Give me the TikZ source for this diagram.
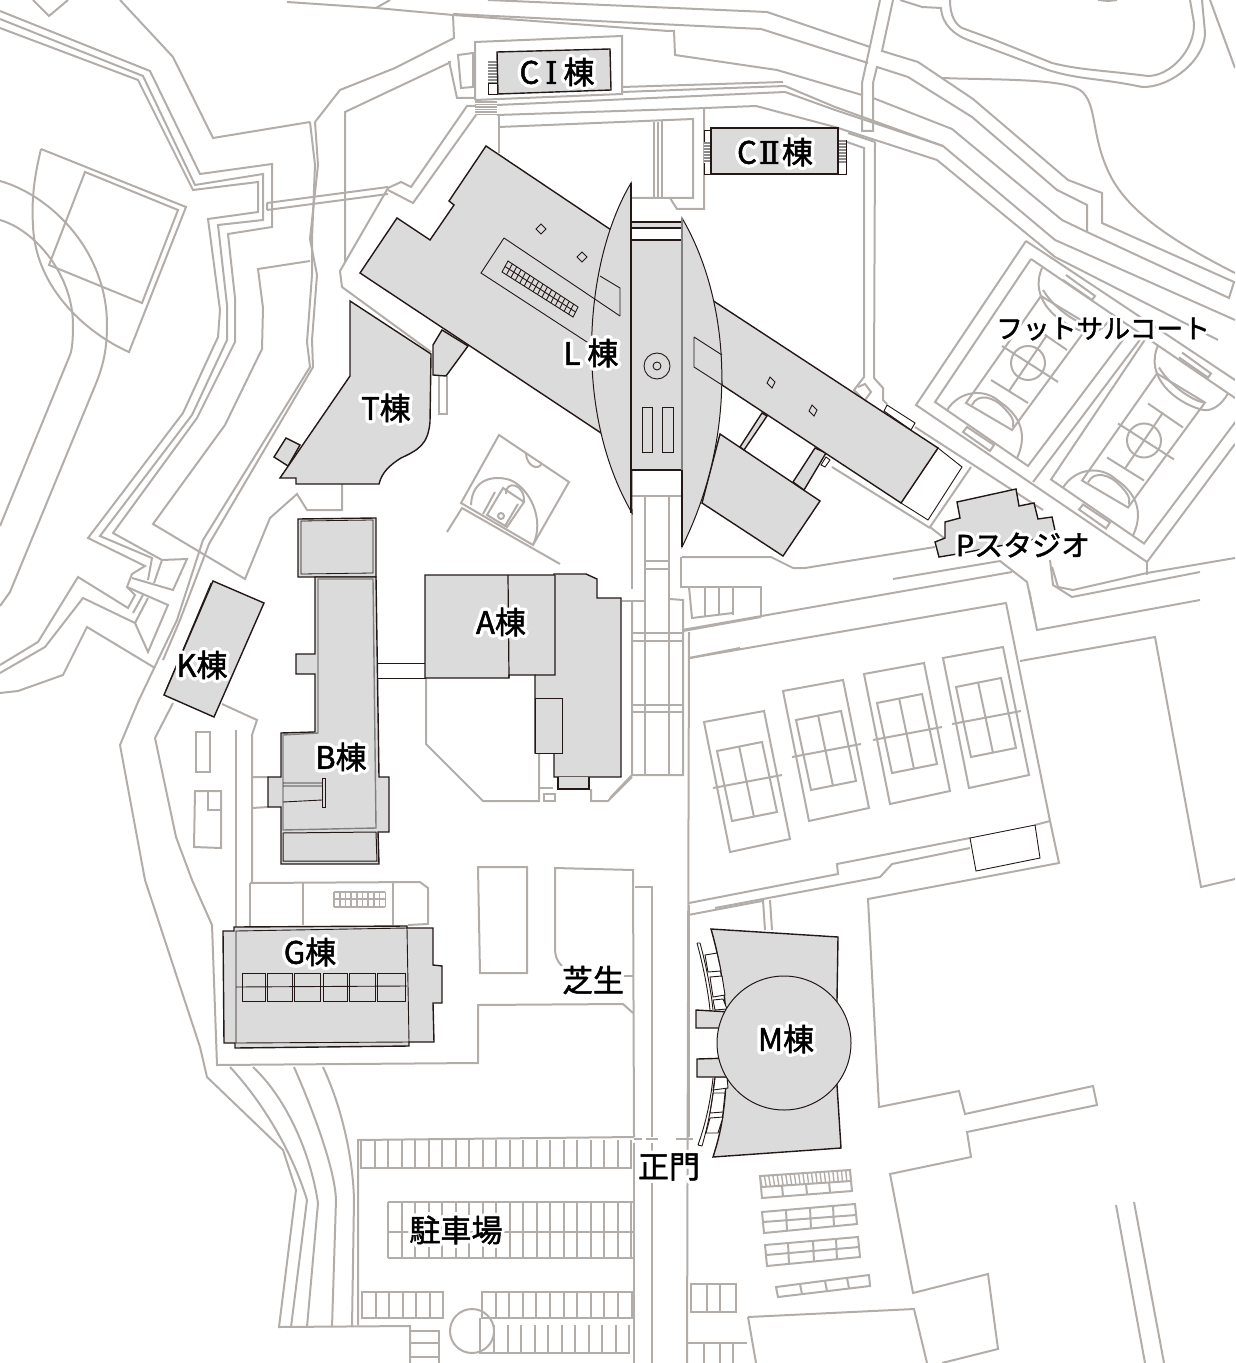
\documentclass[tikz,border=0pt]{standalone}
\usepackage{fontspec}
\setmainfont[RawFeature={embolden=1.6}]{Noto Sans CJK JP}
\newfontfamily\halofont[RawFeature={embolden=24}]{Noto Sans CJK JP}
\newfontfamily\numfont[RawFeature={embolden=1.6}]{DejaVu Serif}
\usetikzlibrary{calc}
\definecolor{roadgray}{HTML}{B3ADAA}
\definecolor{bldggray}{HTML}{DCDBDB}
\definecolor{bldgline}{HTML}{231815}
\definecolor{stairgray}{HTML}{8C8C8C}
\tikzset{
  road/.style={draw=roadgray,line width=1pt,line join=miter},
  bldg/.style={fill=bldggray,draw=bldgline,line width=.7pt,line join=miter},
  thinline/.style={draw=bldgline,line width=.45pt},
  halotext/.style={text=white,inner sep=0pt},
  maptext/.style={text=black,inner sep=0pt},
}
\newcommand{\maplabel}[4][15.5]{%
  \node[halotext] at (#3) {\special{pdf:code 1 j}\fontsize{#1}{#1}\halofont #4};
  \node[maptext] (#2) at (#3) {\special{pdf:code 1 j}\fontsize{#1}{#1}\selectfont #4};}
\begin{document}
\begin{tikzpicture}[x=0.5pt,y=-0.5pt]
\useasboundingbox (0,0) rectangle (1235,1363);
\clip (0,0) rectangle (1235,1363);
\begin{scope}[road]
\draw (0,11)--(150,71)--(200,174)--(272,164)--(272,227)--(228,234)--(235,298)--(235,342)--(197,418)--(113,533)--(162,560)--(154,583);
\draw (148,598)--(135,623)--(83,598)--(45,647)--(0,673);
\draw (0,19)--(143,76)--(195,185)--(263,174)--(263,220)--(218,225)--(227,305)--(227,340)--(192,415)--(100,536)--(152,558)--(148,580);
\draw (143,595)--(133,613);
\draw (0,28)--(138,80)--(193,190)--(258,182)--(258,212)--(208,219)--(220,310)--(218,337)--(183,413)--(88,538)--(145,566)--(132,574)--(127,587)--(135,595)--(128,608)--(78,577)--(38,642)--(0,665);
\draw (267,203)--(388,187) (267,210)--(388,194) (267,203)--(267,210);
\draw (0,693)--(18,691)--(63,675)--(87,627)--(155,668);
\draw (132,578)--(173,590)--(187,559)--(162,560);
\draw (127,587)--(168,605)--(148,652)--(135,623);
\draw (315,122)--(318,165)--(310,239)--(317,275)--(312,340)--(313,367)--(209,544)--(180,620)--(163,660);
\draw (310,122)--(315,165)--(312,239)--(312,275)--(307,342)--(310,367)--(203,540)--(177,620)--(138,702)--(120,745)--(145,880)--(200,1047)--(207,1077)--(283,1150)--(296,1190)--(279,1327)--(410,1326)--(410,1363);
\draw (310,261)--(258,269)--(263,308)--(262,349)--(225,425)--(153,524)--(245,579)--(270,518)--(297,494)--(307,510)--(342,510)--(342,484);
\draw (33,0)--(49,16)--(68,0);
\draw (120,0)--(173,57)--(213,138)--(310,122);
\draw (315,122)--(340,90)--(395,68)--(454,38)--(453,15)--(376,8)--(287,2);
\draw (376,8)--(390,0);
\draw (345,262)--(345,112)--(451,62);
\draw (388,188)--(340,271)--(342,287)--(431,352);
\draw (388,188)--(401,182)--(411,187)--(467,106)--(476,106);
\draw (388,190)--(413,203)--(476,115);
\draw (453,15)--(668,31)--(674,31)--(675,55)--(777,70)--(862,95);
\draw (453,14)--(761,29)--(868,63);
\draw (488,0)--(767,12)--(870,47);
\draw (873,98)--(952,129)--(1062,220)--(1087,232);
\draw (475,100)--(475,42)--(622,36)--(622,94)--(475,100);
\draw (458,55)--(473,53)--(473,87)--(461,88)--cycle;
\draw (449,61)--(457,98)--(475,98);
\draw (622,87)--(783,82);
\draw (622,92)--(785,86)--(835,107)--(943,146)--(1055,240)--(1235,320);
\draw (497,105)--(785,92)--(835,110)--(943,146);
\draw (497,115)--(680,109)--(756,106)--(835,127)--(937,160)--(1055,257)--(1218,340);
\draw (704,108)--(704,209)--(677,209)--(670,198);
\draw (499,115)--(499,153);
\draw (499,127)--(693,119)--(693,198)--(631,198);
\draw (654,122)--(654,197) (658,122)--(658,197) (662,121)--(662,197);
\draw (880,0)--(862,83)--(862,131)--(873,131)--(873,83)--(877,67)--(908,77)--(972,117)--(1057,190)--(1087,205)--(1087,232);
\draw (893,0)--(882,51)--(918,62)--(973,99)--(1068,180)--(1102,193)--(1102,223)--(1234,282)--(1229,298)--(1087,232);
\draw (942,78) .. controls (990,80) and (1060,78) .. (1080,90) .. controls (1098,103) and (1090,135) .. (1110,175) .. controls (1130,215) and (1180,245) .. (1235,273);
\draw (900,0)--(922,7)--(941,8) .. controls (942,25) and (955,35) .. (968,40)--(1048,70) .. controls (1080,80) and (1100,78) .. (1142,87) .. controls (1170,88) and (1205,60) .. (1205,33)--(1202,0);
\draw (950,0) .. controls (950,15) and (955,24) .. (962,28)--(995,40)--(1052,63) .. controls (1080,70) and (1100,70) .. (1148,76) .. controls (1170,76) and (1195,50) .. (1194,23)--(1190,0);
\draw (1210,0)--(1235,68);
\draw (1098,0)--(1108,1)--(1117,0);
\draw (875,142)--(874,378)--(883,388)--(883,400)--(887,404);
\draw (847,142)--(864,148)--(864,377)--(854,390)--(864,400);
\draw (858,387)--(865,384)--(871,392)--(865,400);
\draw (875,142)--(848,133);
\draw (439,376)--(439,414)--(447,414)--(447,376);
\draw (499,435)--(569,482)--(533,545)--(461,503)--cycle;
\draw (447,532)--(462,508)--(560,564);
\draw (526,453) .. controls (526,465) and (538,472) .. (542,463);
\draw (503,488)--(524,502)--(507,527)--(487,515)--cycle;
\draw (495,492)--(483,514) (518,504)--(505,526);
\draw (501,516) circle (3);
\draw (506,494) .. controls (505,480) and (525,483) .. (524,502);
\draw (471,505) .. controls (472,478) and (495,475) .. (510,480) .. controls (530,488) and (545,520) .. (533,545);
\draw (682,557)--(771,557)--(793,568)--(805,568)--(935,547);
\draw (682,630)--(1012,572);
\draw (690,658)--(1006,603)--(1050,821)--(1059,863)--(868,899)--(879,1107)--(959,1091)--(965,1114)--(1093,1086)--(1097,1105)--(967,1132)--(971,1157)--(890,1174)--(913,1293)--(988,1274)--(998,1349)--(942,1363);
\draw (893,579)--(1000,561)--(1027,582)--(1035,620);
\draw (1029,590)--(1037,630)--(1200,600);
\draw (1020,661)--(1155,637)--(1201,887)--(1235,879);
\draw (689,903)--(838,874)--(837,864)--(970,838);
\draw (1035,825)--(1050,821);
\draw (715,908)--(880,877)--(892,864)--(970,848);
\foreach \dx/\dy in {0/0,79/-31,160/-48,239/-64}{
  \begin{scope}[shift={(\dx,\dy)}]
  \draw (704,722)--(764,711)--(790,839)--(730,852)--cycle;
  \draw (717,751)--(762,742)--(777,812)--(732,821)--cycle;
  \draw (739,746)--(754,817) (713,788)--(782,775);
  \end{scope}
}
\draw (622,601)--(645,601);
\draw (632,513)--(632,589);
\draw (632,602)--(632,775)--(683,775)--(683,600)--(670,599);
\draw (632,496)--(682,496);
\draw (645,496)--(645,775) (669,496)--(669,775);
\draw (645,561)--(669,561) (645,569)--(669,569);
\foreach \y in {633,641,705,712}{\draw (632,\y)--(683,\y);}
\draw (610,798)--(632,775);
\draw (681,557)--(681,587)--(733,587)--(733,615);
\draw (689,587)--(692,618)--(733,613);
\draw (705,587)--(705,616) (719,587)--(719,614);
\draw (733,587)--(761,587)--(761,617);
\draw (683,631)--(761,617);
\draw (689,632)--(687,1363);
\draw (689,658)--(740,648);
\draw (426,678)--(426,744)--(483,801)--(539,801)--(539,753);
\draw (544,794) rectangle (555,801);
\draw (540,788)--(553,788);
\draw (591,789)--(591,801)--(608,801)--(632,777);
\draw (173,703)--(155,738)--(176,837)--(192,880)--(212,925)--(217,1065)--(478,1063)--(478,1005)--(623,1004)--(633,1013);
\draw (222,704)--(257,720)--(252,735)--(252,883);
\draw (236,730)--(236,927);
\draw (252,777)--(268,777) (252,808)--(268,807);
\draw (196,732) rectangle (210,772);
\draw (195,791)--(221,791)--(221,848)--(194,847)--cycle;
\draw (208,791)--(208,810)--(221,810);
\draw (250,883)--(420,882)--(428,888)--(428,924)--(408,925);
\draw (250,883)--(250,927) (303,883)--(303,925) (393,883)--(393,925);
\foreach \y in {892,899,907}{\draw[line width=.8pt] (334,\y)--(385,\y);}
\foreach \x in {334,339.7,...,386}{\draw[line width=.8pt] (\x,892)--(\x,907);}
\draw (478,867)--(527,867)--(527,973)--(480,973)--cycle;
\draw (562,966) .. controls (556,960) and (555,955) .. (555,947)--(555,868)--(633,870)--(634,1137);
\draw (623,976)--(633,976);
\draw (635,887)--(652,887)--(652,1137);
\draw (634,1143)--(634,1363) (652,1143)--(652,1363);
\draw (689,905)--(689,1137);
\draw (634,1139)--(642,1139) (646,1139)--(658,1139) (676,1139)--(693,1139);
\draw (230,1067) .. controls (258,1097) and (290,1145) .. (307,1200)--(291,1327);
\draw (253,1067) .. controls (285,1097) and (310,1150) .. (318,1203)--(307,1327);
\draw (294,1067) .. controls (315,1115) and (335,1170) .. (336,1200)--(332,1327);
\draw (323,1067) .. controls (343,1110) and (353,1160) .. (354,1200)--(352,1327);
\draw (358,1325)--(358,1140)--(634,1137);
\draw (361,1140)--(361,1168)--(631,1168)--(631,1140);
\foreach \x in {374.5,388,...,631}{\draw (\x,1140)--(\x,1168);}
\draw (388,1202)--(633,1202) (388,1232)--(633,1232) (388,1258)--(633,1258) (388,1202)--(388,1258);
\foreach \x in {401.5,415,...,633}{\draw (\x,1202)--(\x,1258);}
\draw (362,1292) rectangle (443,1318);
\foreach \x in {375.5,389,...,440}{\draw (\x,1292)--(\x,1318);}
\draw (482,1292)--(632,1292)--(632,1318)--(482,1318)--cycle;
\foreach \x in {495.6,509.2,...,630}{\draw (\x,1292)--(\x,1318);}
\draw (480,1318)--(480,1353)--(629,1353)--(629,1325);
\foreach \x in {494,507.5,...,629}{\draw (\x,1325)--(\x,1353);}
\draw (472,1331) circle (22);
\draw (410,1331)--(439,1331)--(439,1363) (410,1343)--(439,1343) (410,1357)--(439,1357);
\draw (691,1284) rectangle (736,1312);
\draw (707,1284)--(707,1312) (720,1284)--(720,1312);
\draw (687,1343)--(747,1343);
\draw (704,1343)--(704,1363) (720,1343)--(720,1363) (733,1343)--(733,1363);
\draw (748,1317)--(914,1309)--(927,1363);
\draw (748,1317)--(756,1363);
\draw (1116,1205)--(1145,1363) (1134,1202)--(1164,1363);
\draw (688,915)--(762,901) (763,900)--(765,930) (770,900)--(772,930);
\draw (760,1176)--(850,1170)--(852,1191)--(762,1198)--cycle;
\draw (762,1187)--(851,1181);
\foreach \i in {0,...,21}{\draw[line width=.7pt] ($(760,1176)!\i/21!(850,1170)$)--($(762,1187)!\i/21!(851,1181)$);}
\draw (783,1196)--(782,1186) (807,1194)--(806,1184) (830,1192)--(829,1182);
\draw (762,1212)--(855,1204)--(857,1224)--(764,1233)--cycle;
\draw (763,1222)--(856,1215) (786,1210)--(787,1231) (810,1208)--(811,1229) (833,1206)--(834,1227);
\draw (765,1245)--(858,1237)--(860,1257)--(767,1266)--cycle;
\draw (766,1255)--(859,1247) (788,1243)--(789,1264) (813,1241)--(814,1262) (836,1239)--(837,1260);
\draw (776,1287)--(869,1275)--(870,1286)--(778,1297)--cycle;
\draw (800,1284)--(802,1294) (825,1281)--(827,1291) (847,1278)--(849,1288);
\draw (1026,241)--(916,405)--(1147,562)--(1235,444);
\draw (1026,241)--(1235,380);
\draw (1031,259)--(1235,398);
\draw (1033,482)--(1142,337);
\draw (915,427)--(1043,510);
\draw (971,467)--(930,527)--(944,538);
\draw (832,467)--(930,528);
\draw (1052,567)--(1058,587)--(1073,590)--(1147,573)--(1235,558);
\draw (1050,560)--(1053,585)--(1072,597)--(1200,572);
\draw (1147,562)--(1147,575);
\foreach \dx/\dy in {0/0,116/77.5}{
  \begin{scope}[shift={(\dx,\dy)}]
  \draw (1031,259)--(935,402)--(1028,466)--(1125,337);
  \draw (1041,296)--(966,403)--(1012,430)--(1089,325)--cycle;
  \draw (1028,363) circle (17);
  \draw (1002,346)--(1058,382) (1009,391)--(1047,335);
  \draw (991,380)--(1028,403) (1032,326)--(1067,350);
  \draw (947,410) .. controls (960,390) and (985,388) .. (1000,402) .. controls (1015,412) and (1030,430) .. (1017,458);
  \draw (972,405) .. controls (978,392) and (995,398) .. (1003,407) .. controls (1010,414) and (1015,420) .. (1013,427);
  \draw (1042,268) .. controls (1028,300) and (1060,325) .. (1085,332) .. controls (1095,335) and (1105,328) .. (1112,316);
  \draw (1043,290) .. controls (1055,310) and (1080,325) .. (1089,325);
  \draw (1066,275)--(1095,296)--(1092,300)--(1063,280);
  \draw (967,427)--(994,445)--(990,451)--(963,432)--cycle;
  \end{scope}
}
\draw (41,149)--(186,207)--(129,352) .. controls (90,335) and (35,290) .. (33,225) .. controls (31,195) and (36,170) .. (41,149);
\draw (85,172)--(178,210)--(142,303)--(49,265)--cycle;
\draw (0,181) .. controls (50,195) and (107,250) .. (107,325) .. controls (107,350) and (103,365) .. (97,381)--(10,592)--(0,606);
\draw (0,220) .. controls (35,230) and (73,275) .. (73,325) .. controls (73,340) and (72,350) .. (70,355)--(0,526);
\foreach \y in {102,104.5,...,115}{\draw[line width=.6pt] (475,\y)--(497,\y);}
\end{scope}
\draw[thinline] (970,838)--(1035,825)--(1040,858)--(976,871)--cycle;
\draw[thinline,fill=white] (488,83) rectangle (497,94);
\fill[stairgray] (488,61) rectangle (497,83);
\foreach \y in {63,66,...,81}{\draw[white,line width=.4pt] (488,\y)--(497,\y);}
\draw[bldg] (497,52)--(610,49)--(611,90)--(498,94)--cycle;
\draw[thinline] (704,130) rectangle (711,174);
\fill[stairgray] (704,142) rectangle (711,163);
\foreach \y in {144,147,...,162}{\draw[white,line width=.4pt] (704,\y)--(711,\y);}
\draw[thinline] (838,140) rectangle (846,174);
\fill[stairgray] (838,140) rectangle (846,163);
\foreach \y in {142,145,...,162}{\draw[white,line width=.4pt] (838,\y)--(846,\y);}
\draw[bldg] (711,128) rectangle (838,174);
\draw[bldg] (442,330)--(468,346)--(446,376)--(433,375)--(433,345)--cycle;
\draw[bldg] (486,146)--(632,244)--(632,448)--(601,433)--(360,273)--(397,218)--(430,240)--(454,205)--(449,201)--cycle;
\draw[thinline] (541,224)--(546,229)--(541,234)--(536,229)--cycle;
\draw[thinline] (582,252)--(587,257)--(582,262)--(577,257)--cycle;
\coordinate (gridA) at (508,261);
\coordinate (gridB) at (578,307);
\coordinate (gridC) at (502,272);
\coordinate (gridD) at (573,317);
\draw[thinline] (gridA)--(gridB)--(gridD)--(gridC)--cycle;
\draw[thinline] ($(gridA)!.5!(gridC)$)--($(gridB)!.5!(gridD)$);
\foreach \i in {1,...,15}{\draw[thinline] ($(gridA)!\i/16!(gridB)$)--($(gridC)!\i/16!(gridD)$);}
\draw[bldg] (286,438)--(300,445)--(288,466)--(274,457)--cycle;
\draw[bldg] (350,301)--(431,354)--(430,422) .. controls (428,445) and (418,450) .. (401,458) .. controls (390,465) and (382,472) .. (379,484)--(296,484)--(296,478)--(280,478)--(350,376)--cycle;
\draw[bldg] (720,434)--(820,501)--(783,556)--(702,503)--cycle;
\draw[bldg] (762,413)--(767,416)--(744,450)--(740,447)--cycle;
\draw[bldg] (815,448)--(826,453)--(804,490)--(793,482)--cycle;
\draw[thinline,fill=white] (821,465)--(826,457)--(830,460)--(825,467)--cycle;
\draw[thinline,fill=white] (887,405)--(915,423)--(911,430)--(884,411)--cycle;
\draw[thinline,fill=white] (938,448)--(962,467)--(928,520)--(901,503)--cycle;
\draw[bldg] (712,300)--(938,448)--(901,503)--(722,385)--cycle;
\draw[thinline] (770,377)--(775,382)--(772,388)--(767,383)--cycle;
\draw[thinline] (812,405)--(817,410)--(814,416)--(809,411)--cycle;
\draw[bldg,line width=.5pt] (631,183) .. controls (585,260) and (572,410) .. (632,513)--cycle;
\draw[bldg,line width=.5pt] (682,218) .. controls (730,300) and (740,430) .. (682,547)--cycle;
\draw[thinline] (504,238)--(620,316);
\draw[thinline] (504,238)--(481,273)--(590,344);
\draw[thinline] (600,276)--(620,288)--(620,316);
\draw[thinline] (694,337)--(722,355) (694,337)--(694,367)--(722,385);
\fill[bldggray] (631,240) rectangle (682,470);
\fill[bldggray] (631,222) rectangle (682,228);
\draw[bldgline,line width=.7pt] (631,222)--(682,222) (631,228)--(682,228);
\draw[bldgline,line width=.9pt] (631,240)--(682,240) (631,470)--(682,470);
\draw[bldgline,line width=.7pt] (631,183)--(631,513);
\draw[draw=gray,line width=.6pt] (682,218)--(682,470);
\draw[bldgline,line width=.7pt] (682,470)--(682,547);
\draw[thinline] (657,366) circle (13);
\draw[thinline] (657,366) circle (4);
\draw[thinline] (642,407) rectangle (652,452);
\draw[thinline] (662,407) rectangle (673,452);
\draw[bldg] (957,502)--(1016,489)--(1019,506)--(1034,503)--(1038,519)--(1052,517)--(1056,535)--(963,553)--(939,557)--(935,542)--(945,538)--(945,522)--(960,518)--cycle;
\draw[bldg] (213,581)--(264,603)--(214,717)--(164,695)--cycle;
\draw[thinline] (211,583)--(166,690);
\draw[thinline] (378,663)--(426,663) (378,678)--(426,678);
\draw[bldg] (298,519)--(376,518)--(376,577)--(298,577)--cycle;
\draw[draw=bldgline,line width=.4pt] (301,521)--(373,520)--(373,573)--(301,574)--cycle;
\draw[bldg] (315,577)--(315,654)--(296,654)--(296,674)--(315,674)--(315,732)--(281,733)--(281,777)--(268,777)--(268,807)--(281,807)--(281,864)--(379,864)--(378,832)--(389,832)--(389,777)--(379,777)--(376,577)--cycle;
\draw[draw=gray,line width=.7pt] (318,579)--(373,579)--(376,828)--(283,830)--(283,735)--(318,733)--cycle;
\draw[draw=bldgline,line width=.5pt] (283,833)--(376,832)--(377,861)--(283,861)--cycle;
\draw[draw=bldgline,line width=.45pt] (322,783)--(283,783) (322,786)--(283,786) (322,800)--(283,802);
\draw[draw=bldgline,line width=.5pt] (322,778)--(325,778)--(325,807)--(322,807)--cycle;
\draw[bldg] (425,575)--(554,575)--(554,574)--(586,574)--(597,579)--(597,598)--(621,598)--(621,777)--(554,777)--(554,753)--(535,753)--(535,675)--(509,675)--(509,678)--(425,678)--cycle;
\draw[bldgline,line width=.6pt] (508,575)--(509,678) (555,575)--(555,675)--(535,675);
\draw[bldg,line width=.5pt] (535,698) rectangle (562,753);
\draw[bldg] (558,777)--(558,789)--(589,789)--(589,777);
\draw[bldg] (223,931)--(234,931)--(234,927)--(407,926)--(407,928)--(433,928)--(433,965)--(442,966)--(442,1003)--(433,1003)--(434,1042)--(409,1042)--(409,1046)--(235,1048)--(235,1043)--(224,1043)--cycle;
\draw[thinline] (236,931)--(407,928)--(409,1042)--(236,1043)--cycle;
\foreach \a/\b in {242/265,267/292,294/320,323/347,349/375,377/405}{\draw[thinline] (\a,973) rectangle (\b,1001);}
\draw[thinline] (236,987)--(407,986);
\draw[bldg] (711,929)--(838,937)--(837,1000)--(837,1085)--(841,1148)--(713,1157) .. controls (720,1135) and (727,1110) .. (727,1043) .. controls (727,1000) and (720,960) .. (711,929)--cycle;
\draw[thinline,fill=white] (705,955)--(717,953)--(721,971)--(708,972)--cycle;
\draw[thinline,fill=white] (710,977)--(722,976)--(725,995)--(713,997)--cycle;
\draw[thinline,fill=white] (713,1000)--(723,999)--(727,1009)--(715,1010)--cycle;
\draw[thinline,fill=white] (715,1077)--(727,1077)--(728,1088)--(713,1090)--cycle;
\draw[thinline,fill=white] (713,1093)--(725,1093)--(723,1112)--(710,1113)--cycle;
\draw[thinline,fill=white] (710,1118)--(723,1117)--(718,1133)--(706,1133)--cycle;
\draw[thinline] (697,943) .. controls (703,965) and (708,990) .. (710,1010) (700,943) .. controls (706,965) and (711,990) .. (713,1010) (697,943)--(700,943);
\draw[thinline] (713,1078) .. controls (710,1105) and (705,1125) .. (698,1145) (715,1078) .. controls (712,1105) and (708,1125) .. (702,1146) (698,1145)--(702,1146);
\draw[bldg] (696,1010)--(730,1012)--(730,1028)--(696,1028)--cycle;
\draw[bldg] (697,1059)--(730,1058)--(730,1077)--(697,1077)--cycle;
\draw[bldg,line width=.5pt] (784,1043) circle (67);
\maplabel{ci}{557,72}{C\hspace{3pt}{\numfont Ⅰ}\hspace{3pt}棟}
\maplabel{cii}{775,152}{C\hspace{1pt}{\numfont Ⅱ}\hspace{1pt}棟}
\maplabel{lbldg}{591,353}{L 棟}
\maplabel{tbldg}{386,408}{T棟}
\maplabel{abldg}{501,622}{A棟}
\maplabel{kbldg}{202,665}{K棟}
\maplabel{bbldg}{341,757}{B棟}
\maplabel{gbldg}{310,952}{G棟}
\maplabel{mbldg}{786,1039}{M棟}
\maplabel{shibafu}{593,980}{芝生}
\maplabel{seimon}{669,1167}{正門}
\maplabel{parking}{456,1230}{駐車場}
\maplabel[14.5]{pstudio}{1023,545}{Pスタジオ}
\maplabel[13.4]{futsal}{1103,329}{フットサルコート}
\end{tikzpicture}
\end{document}
